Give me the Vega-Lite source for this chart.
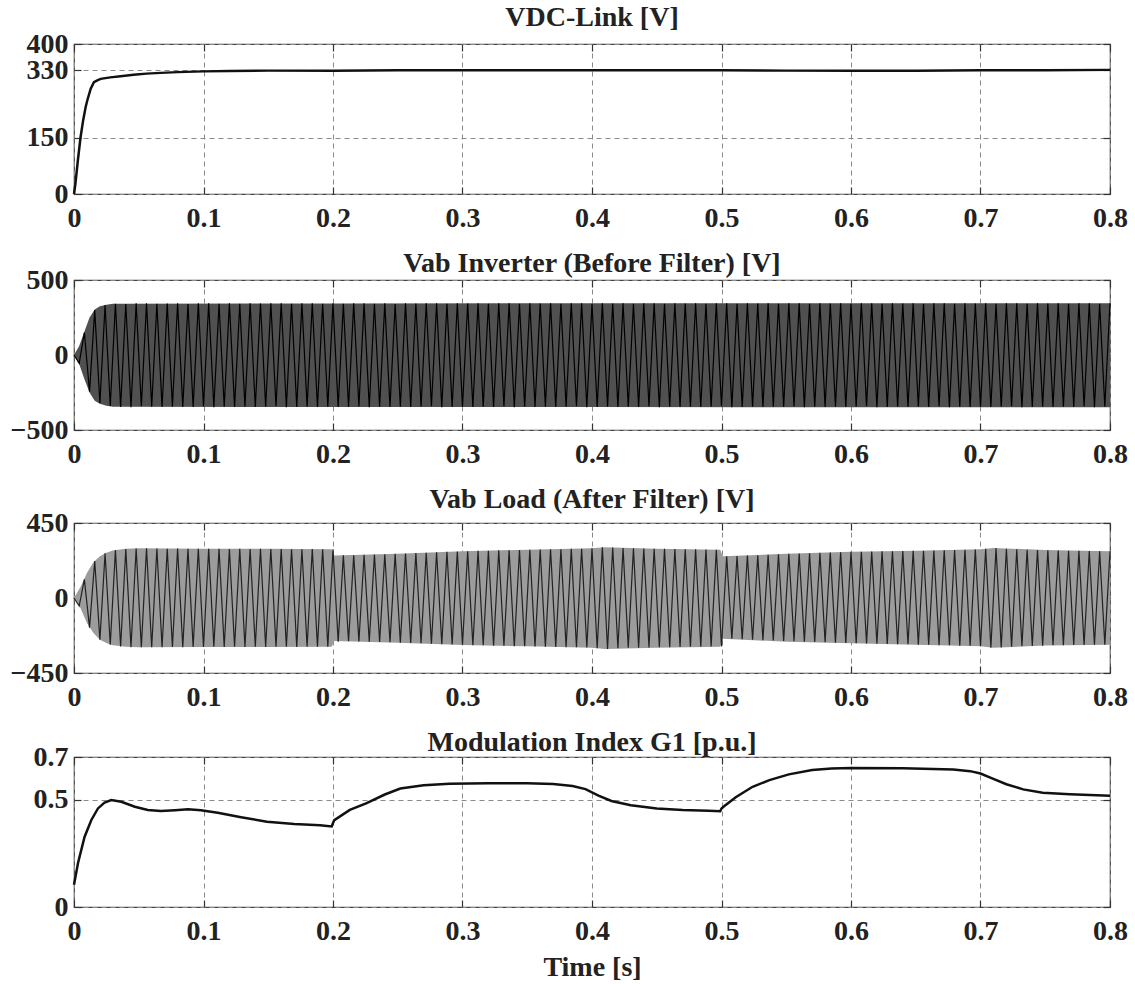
{
  "$schema": "https://vega.github.io/schema/vega-lite/v6.json",
  "background": "white",
  "padding": {"left": 9, "top": 3, "right": 0, "bottom": 0},
  "spacing": 16,
  "datasets": {
    "vdc": [
      {"t":0,"v":0},{"t":0.001,"v":25},{"t":0.003,"v":90},{"t":0.005,"v":150},{"t":0.007,"v":195},{"t":0.009,"v":232},{"t":0.0103,"v":250},{"t":0.0129,"v":281},{"t":0.0154,"v":298},{"t":0.018,"v":303},{"t":0.0206,"v":307},{"t":0.028,"v":311},{"t":0.036,"v":314},{"t":0.046,"v":318},{"t":0.056,"v":321},{"t":0.067,"v":323},{"t":0.08,"v":325},{"t":0.1,"v":327},{"t":0.12,"v":328},{"t":0.15,"v":329},{"t":0.2,"v":329},{"t":0.25,"v":330},{"t":0.3,"v":330},{"t":0.35,"v":330},{"t":0.4,"v":330},{"t":0.45,"v":330},{"t":0.5,"v":330},{"t":0.55,"v":329},{"t":0.6,"v":329},{"t":0.65,"v":329},{"t":0.7,"v":330},{"t":0.75,"v":330},{"t":0.8,"v":331}
    ],
    "mi": [
      {"t":0,"v":0.104},{"t":0.0031,"v":0.205},{"t":0.0082,"v":0.328},{"t":0.0134,"v":0.406},{"t":0.0185,"v":0.46},{"t":0.0236,"v":0.487},{"t":0.0288,"v":0.499},{"t":0.0365,"v":0.491},{"t":0.047,"v":0.468},{"t":0.057,"v":0.453},{"t":0.067,"v":0.448},{"t":0.078,"v":0.452},{"t":0.088,"v":0.456},{"t":0.098,"v":0.452},{"t":0.111,"v":0.44},{"t":0.129,"v":0.419},{"t":0.149,"v":0.398},{"t":0.17,"v":0.387},{"t":0.19,"v":0.381},{"t":0.199,"v":0.376},{"t":0.2,"v":0.392},{"t":0.201,"v":0.405},{"t":0.213,"v":0.453},{"t":0.226,"v":0.485},{"t":0.24,"v":0.525},{"t":0.252,"v":0.553},{"t":0.27,"v":0.568},{"t":0.29,"v":0.575},{"t":0.32,"v":0.578},{"t":0.35,"v":0.578},{"t":0.37,"v":0.574},{"t":0.385,"v":0.565},{"t":0.395,"v":0.55},{"t":0.405,"v":0.52},{"t":0.415,"v":0.495},{"t":0.43,"v":0.475},{"t":0.45,"v":0.46},{"t":0.47,"v":0.453},{"t":0.49,"v":0.449},{"t":0.499,"v":0.447},{"t":0.5,"v":0.46},{"t":0.502,"v":0.47},{"t":0.511,"v":0.512},{"t":0.524,"v":0.561},{"t":0.537,"v":0.592},{"t":0.552,"v":0.619},{"t":0.57,"v":0.639},{"t":0.585,"v":0.646},{"t":0.6,"v":0.649},{"t":0.64,"v":0.648},{"t":0.679,"v":0.642},{"t":0.692,"v":0.634},{"t":0.7,"v":0.623},{"t":0.709,"v":0.6},{"t":0.72,"v":0.573},{"t":0.733,"v":0.549},{"t":0.748,"v":0.533},{"t":0.769,"v":0.526},{"t":0.8,"v":0.519}
    ],
    "envInv": [
      {"t":0,"lo":0,"hi":0},{"t":0.004,"lo":-60,"hi":60},{"t":0.008,"lo":-160,"hi":155},{"t":0.012,"lo":-250,"hi":250},{"t":0.016,"lo":-305,"hi":303},{"t":0.02,"lo":-325,"hi":325},{"t":0.025,"lo":-338,"hi":335},{"t":0.03,"lo":-345,"hi":342},{"t":0.2,"lo":-347,"hi":344},{"t":0.4,"lo":-347,"hi":345},{"t":0.6,"lo":-348,"hi":345},{"t":0.8,"lo":-348,"hi":345}
    ],
    "envLoad": [
      {"t":0,"lo":0,"hi":0},{"t":0.005,"lo":-60,"hi":66},{"t":0.01,"lo":-150,"hi":150},{"t":0.015,"lo":-210,"hi":215},{"t":0.02,"lo":-250,"hi":250},{"t":0.025,"lo":-270,"hi":272},{"t":0.03,"lo":-283,"hi":285},{"t":0.04,"lo":-292,"hi":295},{"t":0.05,"lo":-296,"hi":298},{"t":0.1,"lo":-294,"hi":296},{"t":0.15,"lo":-294,"hi":295},{"t":0.199,"lo":-293,"hi":293},{"t":0.201,"lo":-258,"hi":255},{"t":0.25,"lo":-268,"hi":265},{"t":0.3,"lo":-282,"hi":280},{"t":0.35,"lo":-290,"hi":290},{"t":0.4,"lo":-298,"hi":298},{"t":0.41,"lo":-306,"hi":304},{"t":0.45,"lo":-298,"hi":296},{"t":0.499,"lo":-292,"hi":290},{"t":0.501,"lo":-245,"hi":250},{"t":0.55,"lo":-262,"hi":265},{"t":0.6,"lo":-272,"hi":278},{"t":0.65,"lo":-280,"hi":283},{"t":0.7,"lo":-290,"hi":292},{"t":0.71,"lo":-298,"hi":300},{"t":0.75,"lo":-285,"hi":288},{"t":0.8,"lo":-280,"hi":280}
    ],
    "oscInv": [
      {"t":0,"v":0},{"t":0.004,"v":-55},{"t":0.008,"v":150},{"t":0.012,"v":-245},{"t":0.016,"v":300},{"t":0.02,"v":-322},{"t":0.024,"v":333},{"t":0.028,"v":-340},{"t":0.032,"v":342},{"t":0.036,"v":-346},{"t":0.04,"v":340},{"t":0.044,"v":-348},{"t":0.048,"v":345},{"t":0.052,"v":-342},{"t":0.056,"v":344},{"t":0.06,"v":-345},{"t":0.064,"v":341},{"t":0.068,"v":-347},{"t":0.072,"v":343},{"t":0.076,"v":-344},{"t":0.08,"v":345},{"t":0.084,"v":-346},{"t":0.088,"v":340},{"t":0.092,"v":-347},{"t":0.096,"v":344},{"t":0.1,"v":-343},{"t":0.104,"v":345},{"t":0.108,"v":-348},{"t":0.112,"v":342},{"t":0.116,"v":-345},{"t":0.12,"v":344},{"t":0.124,"v":-346},{"t":0.128,"v":341},{"t":0.132,"v":-344},{"t":0.136,"v":345},{"t":0.14,"v":-347},{"t":0.144,"v":343},{"t":0.148,"v":-345},{"t":0.152,"v":344},{"t":0.156,"v":-342},{"t":0.16,"v":345},{"t":0.164,"v":-348},{"t":0.168,"v":341},{"t":0.172,"v":-346},{"t":0.176,"v":344},{"t":0.18,"v":-344},{"t":0.184,"v":345},{"t":0.188,"v":-347},{"t":0.192,"v":342},{"t":0.196,"v":-345},{"t":0.2,"v":344},{"t":0.204,"v":-346},{"t":0.208,"v":341},{"t":0.212,"v":-347},{"t":0.216,"v":345},{"t":0.22,"v":-343},{"t":0.224,"v":344},{"t":0.228,"v":-348},{"t":0.232,"v":342},{"t":0.236,"v":-345},{"t":0.24,"v":345},{"t":0.244,"v":-346},{"t":0.248,"v":340},{"t":0.252,"v":-344},{"t":0.256,"v":344},{"t":0.26,"v":-347},{"t":0.264,"v":343},{"t":0.268,"v":-345},{"t":0.272,"v":345},{"t":0.276,"v":-342},{"t":0.28,"v":344},{"t":0.284,"v":-348},{"t":0.288,"v":341},{"t":0.292,"v":-346},{"t":0.296,"v":345},{"t":0.3,"v":-344},{"t":0.304,"v":343},{"t":0.308,"v":-347},{"t":0.312,"v":344},{"t":0.316,"v":-345},{"t":0.32,"v":342},{"t":0.324,"v":-346},{"t":0.328,"v":345},{"t":0.332,"v":-343},{"t":0.336,"v":344},{"t":0.34,"v":-348},{"t":0.344,"v":341},{"t":0.348,"v":-345},{"t":0.352,"v":345},{"t":0.356,"v":-346},{"t":0.36,"v":343},{"t":0.364,"v":-344},{"t":0.368,"v":344},{"t":0.372,"v":-347},{"t":0.376,"v":342},{"t":0.38,"v":-345},{"t":0.384,"v":345},{"t":0.388,"v":-342},{"t":0.392,"v":344},{"t":0.396,"v":-348},{"t":0.4,"v":341},{"t":0.404,"v":-346},{"t":0.408,"v":345},{"t":0.412,"v":-344},{"t":0.416,"v":343},{"t":0.42,"v":-347},{"t":0.424,"v":344},{"t":0.428,"v":-345},{"t":0.432,"v":342},{"t":0.436,"v":-346},{"t":0.44,"v":345},{"t":0.444,"v":-343},{"t":0.448,"v":344},{"t":0.452,"v":-348},{"t":0.456,"v":341},{"t":0.46,"v":-345},{"t":0.464,"v":345},{"t":0.468,"v":-346},{"t":0.472,"v":343},{"t":0.476,"v":-344},{"t":0.48,"v":344},{"t":0.484,"v":-347},{"t":0.488,"v":342},{"t":0.492,"v":-345},{"t":0.496,"v":345},{"t":0.5,"v":-342},{"t":0.504,"v":344},{"t":0.508,"v":-348},{"t":0.512,"v":341},{"t":0.516,"v":-346},{"t":0.52,"v":345},{"t":0.524,"v":-344},{"t":0.528,"v":343},{"t":0.532,"v":-347},{"t":0.536,"v":344},{"t":0.54,"v":-345},{"t":0.544,"v":342},{"t":0.548,"v":-346},{"t":0.552,"v":345},{"t":0.556,"v":-343},{"t":0.56,"v":344},{"t":0.564,"v":-348},{"t":0.568,"v":341},{"t":0.572,"v":-345},{"t":0.576,"v":345},{"t":0.58,"v":-346},{"t":0.584,"v":343},{"t":0.588,"v":-344},{"t":0.592,"v":344},{"t":0.596,"v":-347},{"t":0.6,"v":342},{"t":0.604,"v":-345},{"t":0.608,"v":345},{"t":0.612,"v":-342},{"t":0.616,"v":344},{"t":0.62,"v":-348},{"t":0.624,"v":341},{"t":0.628,"v":-346},{"t":0.632,"v":345},{"t":0.636,"v":-344},{"t":0.64,"v":343},{"t":0.644,"v":-347},{"t":0.648,"v":344},{"t":0.652,"v":-345},{"t":0.656,"v":342},{"t":0.66,"v":-346},{"t":0.664,"v":345},{"t":0.668,"v":-343},{"t":0.672,"v":344},{"t":0.676,"v":-348},{"t":0.68,"v":341},{"t":0.684,"v":-345},{"t":0.688,"v":345},{"t":0.692,"v":-346},{"t":0.696,"v":343},{"t":0.7,"v":-344},{"t":0.704,"v":344},{"t":0.708,"v":-347},{"t":0.712,"v":342},{"t":0.716,"v":-345},{"t":0.72,"v":345},{"t":0.724,"v":-342},{"t":0.728,"v":344},{"t":0.732,"v":-348},{"t":0.736,"v":341},{"t":0.74,"v":-346},{"t":0.744,"v":345},{"t":0.748,"v":-344},{"t":0.752,"v":343},{"t":0.756,"v":-347},{"t":0.76,"v":344},{"t":0.764,"v":-345},{"t":0.768,"v":342},{"t":0.772,"v":-346},{"t":0.776,"v":345},{"t":0.78,"v":-343},{"t":0.784,"v":344},{"t":0.788,"v":-348},{"t":0.792,"v":341},{"t":0.796,"v":-345},{"t":0.8,"v":345}
    ],
    "oscLoad": [
      {"t":0,"v":0},{"t":0.004,"v":-48},{"t":0.008,"v":112},{"t":0.012,"v":-178},{"t":0.016,"v":222},{"t":0.02,"v":-250},{"t":0.024,"v":268},{"t":0.028,"v":-280},{"t":0.032,"v":288},{"t":0.036,"v":-291},{"t":0.04,"v":294},{"t":0.044,"v":-295},{"t":0.048,"v":297},{"t":0.052,"v":-296},{"t":0.056,"v":298},{"t":0.06,"v":-295},{"t":0.064,"v":297},{"t":0.068,"v":-296},{"t":0.072,"v":296},{"t":0.076,"v":-294},{"t":0.08,"v":297},{"t":0.084,"v":-295},{"t":0.088,"v":296},{"t":0.092,"v":-294},{"t":0.096,"v":295},{"t":0.1,"v":-294},{"t":0.104,"v":296},{"t":0.108,"v":-293},{"t":0.112,"v":295},{"t":0.116,"v":-294},{"t":0.12,"v":294},{"t":0.124,"v":-293},{"t":0.128,"v":295},{"t":0.132,"v":-294},{"t":0.136,"v":294},{"t":0.14,"v":-293},{"t":0.144,"v":295},{"t":0.148,"v":-294},{"t":0.152,"v":294},{"t":0.156,"v":-293},{"t":0.16,"v":294},{"t":0.164,"v":-293},{"t":0.168,"v":293},{"t":0.172,"v":-294},{"t":0.176,"v":293},{"t":0.18,"v":-292},{"t":0.184,"v":294},{"t":0.188,"v":-293},{"t":0.192,"v":293},{"t":0.196,"v":-292},{"t":0.2,"v":292},{"t":0.204,"v":-262},{"t":0.208,"v":256},{"t":0.212,"v":-260},{"t":0.216,"v":257},{"t":0.22,"v":-261},{"t":0.224,"v":259},{"t":0.228,"v":-262},{"t":0.232,"v":261},{"t":0.236,"v":-264},{"t":0.24,"v":263},{"t":0.244,"v":-266},{"t":0.248,"v":265},{"t":0.252,"v":-268},{"t":0.256,"v":267},{"t":0.26,"v":-270},{"t":0.264,"v":270},{"t":0.268,"v":-272},{"t":0.272,"v":272},{"t":0.276,"v":-275},{"t":0.28,"v":275},{"t":0.284,"v":-277},{"t":0.288,"v":277},{"t":0.292,"v":-279},{"t":0.296,"v":279},{"t":0.3,"v":-281},{"t":0.304,"v":281},{"t":0.308,"v":-283},{"t":0.312,"v":283},{"t":0.316,"v":-284},{"t":0.32,"v":284},{"t":0.324,"v":-286},{"t":0.328,"v":286},{"t":0.332,"v":-287},{"t":0.336,"v":287},{"t":0.34,"v":-289},{"t":0.344,"v":288},{"t":0.348,"v":-290},{"t":0.352,"v":289},{"t":0.356,"v":-291},{"t":0.36,"v":291},{"t":0.364,"v":-292},{"t":0.368,"v":292},{"t":0.372,"v":-294},{"t":0.376,"v":293},{"t":0.38,"v":-295},{"t":0.384,"v":295},{"t":0.388,"v":-296},{"t":0.392,"v":296},{"t":0.396,"v":-297},{"t":0.4,"v":298},{"t":0.404,"v":-302},{"t":0.408,"v":305},{"t":0.412,"v":-306},{"t":0.416,"v":303},{"t":0.42,"v":-301},{"t":0.424,"v":300},{"t":0.428,"v":-299},{"t":0.432,"v":298},{"t":0.436,"v":-298},{"t":0.44,"v":297},{"t":0.444,"v":-297},{"t":0.448,"v":296},{"t":0.452,"v":-296},{"t":0.456,"v":295},{"t":0.46,"v":-295},{"t":0.464,"v":294},{"t":0.468,"v":-294},{"t":0.472,"v":293},{"t":0.476,"v":-293},{"t":0.48,"v":292},{"t":0.484,"v":-292},{"t":0.488,"v":291},{"t":0.492,"v":-291},{"t":0.496,"v":290},{"t":0.5,"v":-291},{"t":0.504,"v":250},{"t":0.508,"v":-244},{"t":0.512,"v":252},{"t":0.516,"v":-247},{"t":0.52,"v":255},{"t":0.524,"v":-250},{"t":0.528,"v":257},{"t":0.532,"v":-253},{"t":0.536,"v":260},{"t":0.54,"v":-255},{"t":0.544,"v":262},{"t":0.548,"v":-258},{"t":0.552,"v":265},{"t":0.556,"v":-260},{"t":0.56,"v":267},{"t":0.564,"v":-262},{"t":0.568,"v":269},{"t":0.572,"v":-264},{"t":0.576,"v":271},{"t":0.58,"v":-266},{"t":0.584,"v":273},{"t":0.588,"v":-268},{"t":0.592,"v":275},{"t":0.596,"v":-270},{"t":0.6,"v":277},{"t":0.604,"v":-272},{"t":0.608,"v":278},{"t":0.612,"v":-273},{"t":0.616,"v":279},{"t":0.62,"v":-275},{"t":0.624,"v":280},{"t":0.628,"v":-276},{"t":0.632,"v":281},{"t":0.636,"v":-277},{"t":0.64,"v":282},{"t":0.644,"v":-278},{"t":0.648,"v":283},{"t":0.652,"v":-280},{"t":0.656,"v":284},{"t":0.66,"v":-281},{"t":0.664,"v":285},{"t":0.668,"v":-283},{"t":0.672,"v":286},{"t":0.676,"v":-284},{"t":0.68,"v":288},{"t":0.684,"v":-286},{"t":0.688,"v":289},{"t":0.692,"v":-287},{"t":0.696,"v":291},{"t":0.7,"v":-289},{"t":0.704,"v":296},{"t":0.708,"v":-298},{"t":0.712,"v":300},{"t":0.716,"v":-297},{"t":0.72,"v":296},{"t":0.724,"v":-293},{"t":0.728,"v":293},{"t":0.732,"v":-290},{"t":0.736,"v":290},{"t":0.74,"v":-288},{"t":0.744,"v":288},{"t":0.748,"v":-286},{"t":0.752,"v":286},{"t":0.756,"v":-284},{"t":0.76,"v":285},{"t":0.764,"v":-283},{"t":0.768,"v":284},{"t":0.772,"v":-282},{"t":0.776,"v":283},{"t":0.78,"v":-282},{"t":0.784,"v":282},{"t":0.788,"v":-281},{"t":0.792,"v":281},{"t":0.796,"v":-280},{"t":0.8,"v":280}
    ]
  },
  "vconcat": [
    {
      "title": {"text": "VDC-Link [V]", "offset": -2},
      "width": 1036, "height": 150,
      "data": {"name": "vdc"},
      "layer": [
        {
          "mark": {"type": "line", "color": "#111", "strokeWidth": 2.5},
          "encoding": {
            "x": {"field": "t", "type": "quantitative", "scale": {"domain": [0, 0.8], "nice": false}, "axis": {"orient": "bottom", "values": [0,0.1,0.2,0.3,0.4,0.5,0.6,0.7,0.8], "format": "~g", "grid": true, "title": null}},
            "y": {"field": "v", "type": "quantitative", "scale": {"domain": [0, 400], "nice": false}, "axis": {"orient": "left", "values": [0,150,330,400], "grid": true, "title": null}}
          }
        },
        {
          "mark": {"type": "line", "opacity": 0},
          "encoding": {
            "x": {"field": "t", "type": "quantitative", "axis": {"orient": "top", "values": [0,0.1,0.2,0.3,0.4,0.5,0.6,0.7,0.8], "labels": false, "grid": false, "title": null}},
            "y": {"field": "v", "type": "quantitative", "axis": {"orient": "right", "values": [0,150,330,400], "labels": false, "grid": false, "title": null}}
          }
        }
      ],
      "resolve": {"axis": {"x": "independent", "y": "independent"}}
    },
    {
      "title": {"text": "Vab Inverter (Before Filter) [V]", "offset": -12},
      "width": 1036, "height": 150,
      "layer": [
        {
          "data": {"name": "envInv"},
          "mark": {"type": "area", "color": "#505050", "opacity": 1},
          "encoding": {
            "x": {"field": "t", "type": "quantitative", "scale": {"domain": [0, 0.8], "nice": false}, "axis": {"orient": "bottom", "values": [0,0.1,0.2,0.3,0.4,0.5,0.6,0.7,0.8], "format": "~g", "grid": true, "title": null}},
            "y": {"field": "hi", "type": "quantitative", "scale": {"domain": [-500, 500], "nice": false}, "axis": {"orient": "left", "values": [-500,0,500], "grid": true, "title": null}},
            "y2": {"field": "lo"}
          }
        },
        {
          "data": {"name": "oscInv"},
          "mark": {"type": "line", "color": "#000", "strokeWidth": 1.2},
          "encoding": {
            "x": {"field": "t", "type": "quantitative", "axis": {"orient": "top", "values": [0,0.1,0.2,0.3,0.4,0.5,0.6,0.7,0.8], "labels": false, "grid": false, "title": null}},
            "y": {"field": "v", "type": "quantitative", "axis": {"orient": "right", "values": [-500,0,500], "labels": false, "grid": false, "title": null}}
          }
        }
      ],
      "resolve": {"axis": {"x": "independent", "y": "independent"}}
    },
    {
      "title": {"text": "Vab Load (After Filter) [V]", "offset": -5},
      "width": 1036, "height": 150,
      "layer": [
        {
          "data": {"name": "envLoad"},
          "mark": {"type": "area", "color": "#9c9c9c", "opacity": 1},
          "encoding": {
            "x": {"field": "t", "type": "quantitative", "scale": {"domain": [0, 0.8], "nice": false}, "axis": {"orient": "bottom", "values": [0,0.1,0.2,0.3,0.4,0.5,0.6,0.7,0.8], "format": "~g", "grid": true, "title": null}},
            "y": {"field": "hi", "type": "quantitative", "scale": {"domain": [-450, 450], "nice": false}, "axis": {"orient": "left", "values": [-450,0,450], "grid": true, "title": null}},
            "y2": {"field": "lo"}
          }
        },
        {
          "data": {"name": "oscLoad"},
          "mark": {"type": "line", "color": "#222", "strokeWidth": 1.2},
          "encoding": {
            "x": {"field": "t", "type": "quantitative", "axis": {"orient": "top", "values": [0,0.1,0.2,0.3,0.4,0.5,0.6,0.7,0.8], "labels": false, "grid": false, "title": null}},
            "y": {"field": "v", "type": "quantitative", "axis": {"orient": "right", "values": [-450,0,450], "labels": false, "grid": false, "title": null}}
          }
        }
      ],
      "resolve": {"axis": {"x": "independent", "y": "independent"}}
    },
    {
      "title": {"text": "Modulation Index G1 [p.u.]", "offset": -14},
      "width": 1036, "height": 150,
      "data": {"name": "mi"},
      "layer": [
        {
          "mark": {"type": "line", "color": "#111", "strokeWidth": 2.5},
          "encoding": {
            "x": {"field": "t", "type": "quantitative", "scale": {"domain": [0, 0.8], "nice": false}, "axis": {"orient": "bottom", "values": [0,0.1,0.2,0.3,0.4,0.5,0.6,0.7,0.8], "format": "~g", "grid": true, "title": "Time [s]"}},
            "y": {"field": "v", "type": "quantitative", "scale": {"domain": [0, 0.7], "nice": false}, "axis": {"orient": "left", "values": [0,0.5,0.7], "format": "~g", "grid": true, "title": null}}
          }
        },
        {
          "mark": {"type": "line", "opacity": 0},
          "encoding": {
            "x": {"field": "t", "type": "quantitative", "axis": {"orient": "top", "values": [0,0.1,0.2,0.3,0.4,0.5,0.6,0.7,0.8], "labels": false, "grid": false, "title": null}},
            "y": {"field": "v", "type": "quantitative", "axis": {"orient": "right", "values": [0,0.5,0.7], "labels": false, "grid": false, "title": null}}
          }
        }
      ],
      "resolve": {"axis": {"x": "independent", "y": "independent"}}
    }
  ],
  "config": {
    "font": "Liberation Serif",
    "view": {"stroke": "#444", "strokeWidth": 1.2},
    "axis": {
      "labelFont": "Liberation Serif", "labelFontSize": 28, "labelFontWeight": "bold", "labelColor": "#222",
      "titleFont": "Liberation Serif", "titleFontSize": 28, "titleFontWeight": "bold", "titleColor": "#222", "titlePadding": 8,
      "gridColor": "#8a8a8a", "gridDash": [5, 4], "gridWidth": 1, "gridOpacity": 1,
      "domain": false, "tickColor": "#333", "tickSize": -7, "tickWidth": 1.2,
      "labelFlush": false, "labelOverlap": false, "labelBound": false
    },
    "axisX": {"labelPadding": 17},
    "axisY": {"labelPadding": 13},
    "title": {"font": "Liberation Serif", "fontSize": 28, "fontWeight": "bold", "color": "#222", "anchor": "middle"}
  }
}
